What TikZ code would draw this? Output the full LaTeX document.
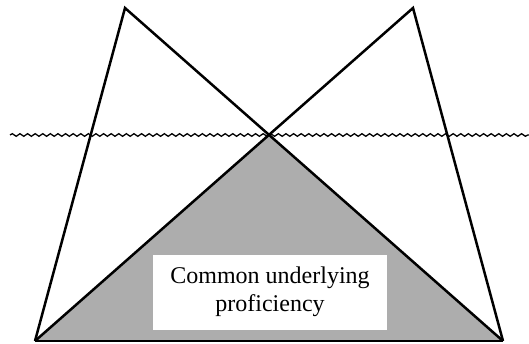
\documentclass[tikz,border=0pt]{standalone}
\usepackage{fontspec}
\setmainfont{Liberation Serif}
\usetikzlibrary{decorations.pathmorphing}
\begin{document}
\begin{tikzpicture}[x=1pt,y=1pt,
  edge/.style={line width=2.5pt,line join=miter},
  water/.style={line width=1.3pt,decorate,decoration={snake,segment length=7.6pt,amplitude=1.3pt}},
  shade/.style={fill=black!32},
  labelbox/.style={fill=white,inner sep=0pt,minimum width=234pt,minimum height=75pt,align=center,font=\fontsize{24}{27.5}\selectfont}]
\useasboundingbox (0,0) rectangle (529,343);
\coordinate (bl) at (35,2);
\coordinate (br) at (503,2);
\coordinate (tl) at (125,335);
\coordinate (tr) at (413,335);
\coordinate (c) at (268.5,208);
\fill[shade] (bl) -- (c) -- (br) -- cycle;
\node[labelbox] (cup) at (270,51) {Common underlying\\proficiency};
\coordinate (wl) at (10,208);
\coordinate (wr) at (529,208);
\draw[water] (wl) -- (wr);
\draw[edge] (bl) -- (tl) -- (br);
\draw[edge] (bl) -- (tr) -- (br);
\draw[edge] (bl) -- (br);
\end{tikzpicture}
\end{document}
